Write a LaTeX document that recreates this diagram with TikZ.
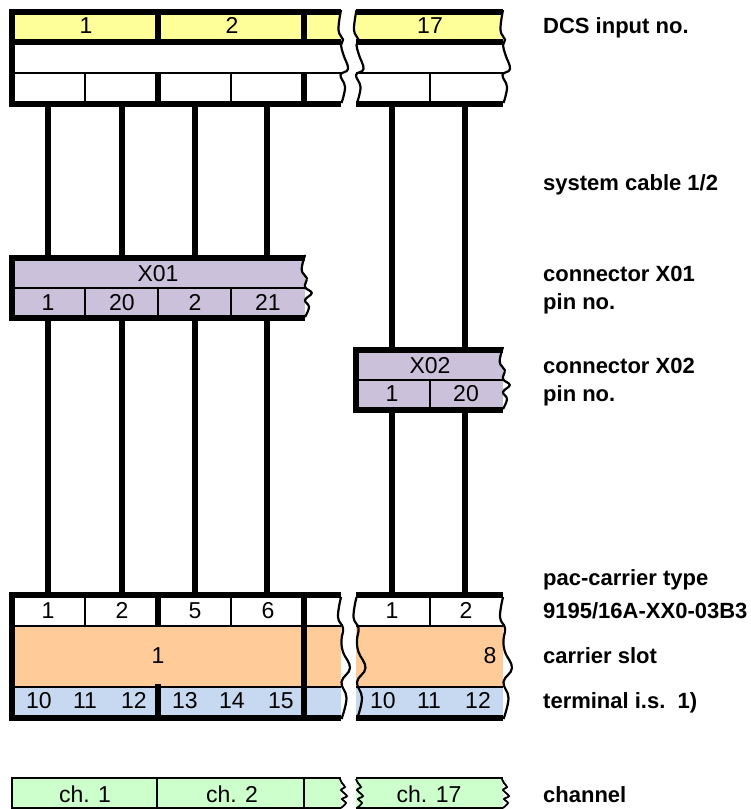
\documentclass[tikz,border=0pt]{standalone}
\usepackage{fontspec}
\setmainfont{Liberation Sans}
\definecolor{cyellow}{HTML}{FFFF99}
\definecolor{cpurple}{HTML}{CCC1DA}
\definecolor{corange}{HTML}{FFCC99}
\definecolor{cblue}{HTML}{C6D9F0}
\definecolor{cgreen}{HTML}{CCFFCC}
\tikzset{
  heavy/.style={line width=6pt,line join=miter},
  wire/.style={line width=6pt},
  slim/.style={line width=2pt},
  wavy/.style={line width=2.2pt,smooth,tension=0.7},
  zig/.style={line width=1.8pt,smooth,tension=0.4},
  num/.style={anchor=base,inner sep=0,font=\fontsize{23}{26}\selectfont},
  lab/.style={anchor=base west,inner sep=0,font=\fontsize{22}{25}\selectfont\bfseries}
}
\newcommand{\topwave}{(0,10) (-2.5,30) (2,39.5) (0,45) (2.5,55) (7,69) (-.5,75) (4,87) (.5,103)}
\newcommand{\botwave}{(0,597) (-3,617) (2,628) (.5,640) (2,652) (9,668) (.5,682) (5.5,698) (.5,719)}
\newcommand{\grnwave}{(-1,779) (1,783) (4,787) (0,790) (6,796) (1,799) (5,803) (0,808)}
\newcommand{\conwave}{(0,0) (-3.3,15) (1.7,23) (0,32) (6.7,38) (0,45) (4,52) (0,62)}
\begin{document}
\begin{tikzpicture}[x=1pt,y=-1pt]
\useasboundingbox (0,0) rectangle (751,809);
% anchors of the wires
\foreach \n/\x in {a/48,b/122,c/195,d/267,e/392,f/465}{
  \coordinate (top\n) at (\x,103);
  \coordinate (car\n) at (\x,595);
}
\foreach \n/\x in {a/48,b/122,c/195,d/267}{
  \coordinate (xoat\n) at (\x,258);
  \coordinate (xoab\n) at (\x,318);
}
\foreach \n/\x in {e/392,f/465}{
  \coordinate (xobt\n) at (\x,350);
  \coordinate (xobb\n) at (\x,410);
}
% wires
\foreach \n in {a,b,c,d}{
  \draw[wire] (top\n) -- (xoat\n);
  \draw[wire] (xoab\n) -- (car\n);
}
\foreach \n in {e,f}{
  \draw[wire] (top\n) -- (xobt\n);
  \draw[wire] (xobb\n) -- (car\n);
}
% ---------- top block
\fill[cyellow] (12,12) rectangle (341,42);
\fill[cyellow] (356,12) rectangle (503,42);
\fill[white] plot[smooth,tension=0.7,shift={(341,0)}] coordinates {\topwave} -- (356,103)
   -- plot[smooth,tension=0.7,shift={(356.5,0)}] coordinates {(.5,103) (4,87) (-.5,75) (7,69) (2.5,55) (0,45) (2,39.5) (-3.5,30) (0,10)} -- cycle;
\fill[white] plot[smooth,tension=0.7,shift={(503,0)}] coordinates {\topwave} -- (520,103) -- (520,10) -- cycle;
\draw[heavy] (341,12) -- (12,12) -- (12,103.5) -- (341,103.5);
\draw[heavy] (12,42) -- (341,42);
\draw[heavy] (158,12) -- (158,42) (158,73) -- (158,103) (303.5,12) -- (303.5,42) (303.5,73) -- (303.5,103);
\draw[slim] (12,73) -- (341,73) (85,73) -- (85,103) (231,73) -- (231,103);
\draw[heavy] (356,12) -- (503,12) (356,42) -- (503,42) (356,103.5) -- (503,103.5);
\draw[slim] (356,73) -- (503,73) (429.5,73) -- (429.5,103);
\draw[wavy] plot[shift={(341,0)}] coordinates {\topwave};
\draw[wavy] plot[shift={(356.5,0)}] coordinates {\topwave};
\draw[wavy] plot[shift={(503,0)}] coordinates {\topwave};
\node[num] (t1) at (86,33) {1};
\node[num] (t2) at (232,33) {2};
\node[num] (t17) at (430,33) {17};
% ---------- X01
\fill[cpurple] (12,258) rectangle (305,318);
\fill[white] plot[smooth,tension=0.7,shift={(305,255)}] coordinates {\conwave} -- (320,317) -- (320,255) -- cycle;
\draw[heavy] (305,258) -- (12,258) -- (12,318) -- (305,318);
\draw[slim] (12,288) -- (305,288) (85,288) -- (85,318) (158,288) -- (158,318) (231,288) -- (231,318);
\draw[wavy] plot[shift={(305,255)}] coordinates {\conwave};
\node[num] (x01) at (158,281) {X01};
\foreach \t/\x in {1/48,20/122,2/195,21/268}{ \node[num] (xp\t) at (\x,310) {\t}; }
% ---------- X02
\fill[cpurple] (356,350) rectangle (503,410);
\fill[white] plot[smooth,tension=0.7,shift={(503,347)}] coordinates {\conwave} -- (520,409) -- (520,347) -- cycle;
\draw[heavy] (503,350) -- (356,350) -- (356,410) -- (503,410);
\draw[slim] (356,380) -- (503,380) (429.5,380) -- (429.5,410);
\draw[wavy] plot[shift={(503,347)}] coordinates {\conwave};
\node[num] (x02) at (430,373) {X02};
\foreach \t/\x in {1/392,20/466}{ \node[num] (yp\t) at (\x,401) {\t}; }
% ---------- carrier block
\fill[corange] (12,626) rectangle (341,687);
\fill[cblue] (12,687) rectangle (341,718);
\fill[corange] (356,626) rectangle (503,687);
\fill[cblue] (356,687) rectangle (503,718);
\draw[slim] (12,626) -- (341,626) (12,687) -- (341,687) (85,595) -- (85,626) (231,595) -- (231,626);
\draw[slim] (356,626) -- (503,626) (356,687) -- (503,687) (429.5,595) -- (429.5,626);
\draw[heavy] (341,595) -- (12,595) -- (12,718) -- (341,718);
\draw[heavy] (158,595) -- (158,625) (158,684) -- (158,718) (303.5,595) -- (303.5,718);
\draw[heavy] (356,595) -- (503,595) (356,718) -- (503,718);
\draw[wavy] plot[shift={(341,0)}] coordinates {\botwave};
\draw[wavy] plot[shift={(356.5,0)}] coordinates {\botwave};
\draw[wavy] plot[shift={(503,0)}] coordinates {\botwave};
\foreach \t/\x in {1/48,2/122,5/195,6/268}{ \node[num] (cp\t) at (\x,618) {\t}; }
\node[num] (cps1) at (392,618) {1};
\node[num] (cps2) at (466,618) {2};
\node[num] (slot1) at (158,663) {1};
\node[num] (slot8) at (490,663) {8};
\foreach \t/\x in {10/39,11/85,12/134,13/185,14/232,15/281}{ \node[num] (ti\t) at (\x,708) {\t}; }
\foreach \t/\x in {10/383,11/429,12/478}{ \node[num] (tj\t) at (\x,708) {\t}; }
% ---------- channels
\fill[cgreen] (12,778) rectangle (341,808);
\fill[cgreen] (356,778) rectangle (503,808);
\draw[slim] (341,778) -- (12,778) -- (12,808) -- (341,808) (157,778) -- (157,808) (304,778) -- (304,808);
\draw[slim] (356,778) -- (503,778) (356,808) -- (503,808);
\draw[zig] plot[shift={(341,0)}] coordinates {\grnwave};
\draw[zig] plot[shift={(357,0)}] coordinates {\grnwave};
\draw[zig] plot[shift={(503,0)}] coordinates {\grnwave};
\node[num] (c1) at (85,802) {ch. 1};
\node[num] (c2) at (232,802) {ch. 2};
\node[num] (c17) at (429,802) {ch. 17};
% ---------- legend
\node[lab] (l1) at (543,33) {DCS input no.};
\node[lab] (l2) at (543,190) {system cable 1/2};
\node[lab] (l3) at (543,281) {connector X01};
\node[lab] (l4) at (543,309) {pin no.};
\node[lab] (l5) at (543,373) {connector X02};
\node[lab] (l6) at (543,401) {pin no.};
\node[lab] (l7) at (543,585) {pac-carrier type};
\node[lab] (l8) at (543,618) {9195/16A-XX0-03B3};
\node[lab] (l9) at (543,663) {carrier slot};
\node[lab] (l10) at (543,708) {terminal i.s.\ \ 1)};
\node[lab] (l11) at (543,802) {channel};
\end{tikzpicture}
\end{document}
